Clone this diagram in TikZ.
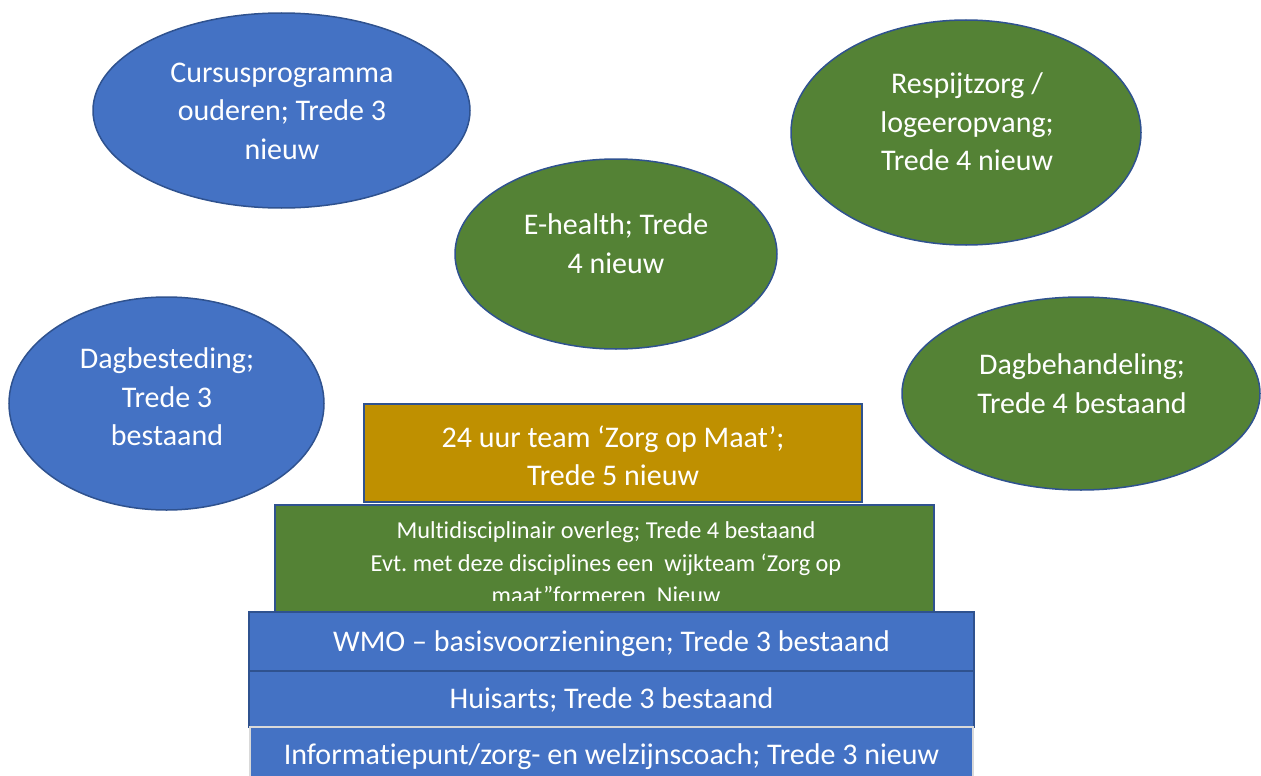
\documentclass[tikz,border=0pt]{standalone}
\usepackage{fontspec}
\setmainfont{Carlito}[Ligatures=NoCommon]
\usetikzlibrary{shapes.geometric}
\definecolor{ofblue}{HTML}{4472C4}
\definecolor{ofgreen}{HTML}{548235}
\definecolor{ofgold}{HTML}{BF9000}
\definecolor{ofline}{HTML}{2F528F}
\definecolor{ofgray}{HTML}{D9D9D9}
\frenchspacing
\begin{document}
\begin{tikzpicture}[x=1pt,y=-1pt,
  ell/.style={ellipse, draw=ofline, line width=1.5pt, inner sep=0pt},
  box/.style={rectangle, draw=ofline, line width=1.5pt, inner sep=0pt},
  big/.style={text=white, font=\fontsize{30}{38.5}\selectfont, align=center, inner sep=0pt},
  small/.style={text=white, font=\fontsize{24.3}{32.5}\selectfont, align=center, inner sep=0pt}]
\useasboundingbox (0,0) rectangle (1261,776);
\clip (0,0) rectangle (1261,776);
% ellipses
\node[ell, fill=ofblue, minimum width=377pt, minimum height=195pt] (cursus) at (281.5,110.5) {};
\node[big] (cursust) at (282,111) {Cursusprogramma\\ouderen; Trede 3\\nieuw};
\node[ell, fill=ofblue, minimum width=315pt, minimum height=213pt] (dagbest) at (166.5,403.5) {};
\node[big] (dagbestt) at (167,397) {Dagbesteding;\\Trede 3\\bestaand};
\node[ell, fill=ofgreen, minimum width=322pt, minimum height=190pt] (ehealth) at (616,254) {};
\node[big] (ehealtht) at (616,243.5) {E-health; Trede\\4 nieuw};
\node[ell, fill=ofgreen, minimum width=350pt, minimum height=225pt] (respijt) at (966,132.5) {};
\node[big] (respijtt) at (967,122) {Respijtzorg /\\logeeropvang;\\Trede 4 nieuw};
\node[ell, fill=ofgreen, minimum width=358pt, minimum height=193pt] (dagbeh) at (1081,393.5) {};
\node[big] (dagbeht) at (1082,383.5) {Dagbehandeling;\\Trede 4 bestaand};
% stacked boxes
\node[box, fill=ofgold, minimum width=498pt, minimum height=98pt] (team) at (613,453) {};
\node[big] (teamt) at (613,456) {24 uur team ‘Zorg op Maat’;\\Trede 5 nieuw};
\node[box, fill=ofgreen, minimum width=659pt, minimum height=107pt] (multi) at (604.5,558.5) {};
\begin{scope}
\clip (275,505) rectangle (934,600);
\node[small] (multit) at (606,563) {Multidisciplinair overleg; Trede 4 bestaand\\Evt. met deze disciplines een\ \ wijkteam ‘Zorg op\\maat”formeren\ \ Nieuw};
\end{scope}
\node[box, fill=ofblue, minimum width=725pt, minimum height=59pt] (wmo) at (611.5,641.5) {};
\node[big] (wmot) at (611.5,644) {WMO – basisvoorzieningen; Trede 3 bestaand};
\node[box, fill=ofblue, minimum width=725pt, minimum height=56pt] (huis) at (611.5,699) {};
\node[big] (huist) at (611.5,700) {Huisarts; Trede 3 bestaand};
\node[box, draw=ofgray, fill=ofblue, minimum width=723pt, minimum height=63pt] (info) at (611.5,758.5) {};
\node[big] (infot) at (611.5,757) {Informatiepunt/zorg- en welzijnscoach; Trede 3 nieuw};
\end{tikzpicture}
\end{document}
